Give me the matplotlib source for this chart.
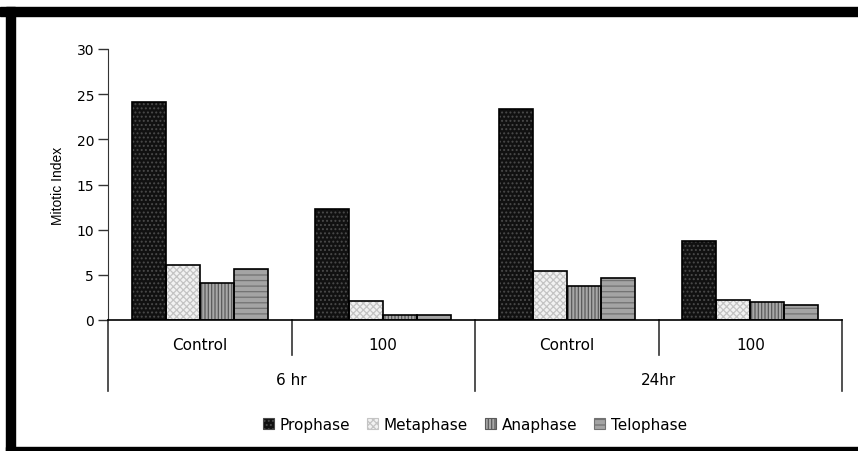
import matplotlib.pyplot as plt
from matplotlib.patches import Patch, Rectangle
import numpy as np

plt.rcParams['font.family'] = ['DejaVu Sans']
plt.rcParams['hatch.linewidth'] = 0.9

# data
phases = ['Prophase', 'Metaphase', 'Anaphase', 'Telophase']
doses = ['Control', '100', 'Control', '100']
times = ['6 hr', '24hr']
prophase = [24.1, 12.3, 23.4, 8.7]
metaphase = [6.1, 2.1, 5.4, 2.2]
anaphase = [4.1, 0.5, 3.8, 2.0]
telophase = [5.6, 0.5, 4.7, 1.7]
values = [prophase, metaphase, anaphase, telophase]

styles = [
    dict(face='#111111', hatch='....', hcol='#4a4a4a'),
    dict(face='#f2f2f2', hatch='xxxxx', hcol='#c4c4c4'),
    dict(face='#a8a8a8', hatch='|||||', hcol='#5a5a5a'),
    dict(face='#a4a4a4', hatch='---', hcol='#727272'),
]

fig = plt.figure(figsize=(8.58, 4.52), dpi=100)
ax = fig.add_axes([108 / 858, 1 - 321 / 452, (842 - 108) / 858, 271 / 452])

x = np.arange(len(doses))
w = 0.185
for i, (vals, st) in enumerate(zip(values, styles)):
    pos = x + (i - 1.5) * w
    ax.bar(pos, vals, w, color=st['face'], hatch=st['hatch'],
           edgecolor=st['hcol'], linewidth=0, zorder=2)
    ax.bar(pos, vals, w, fill=False, edgecolor='black', linewidth=1.2, zorder=3)

ax.set_xlim(-0.5, 3.5)
ax.set_ylim(0, 30)
ax.set_yticks(range(0, 31, 5))
ax.tick_params(axis='y', direction='out', length=7, width=1, color='#333333',
               labelsize=10, pad=3)
ax.set_xticks([])
for s in ['top', 'right']:
    ax.spines[s].set_visible(False)
ax.spines['left'].set_color('#333333')
ax.spines['bottom'].set_color('black')
ax.spines['bottom'].set_linewidth(1.2)
ax.set_ylabel('Mitotic Index', fontsize=10, family='Liberation Sans', labelpad=8)

# category separators and labels under the axis
tr = ax.get_xaxis_transform()
for xs in [-0.5, 1.5, 3.5]:
    ax.plot([xs, xs], [0, -0.262], transform=tr, color='#333333', lw=1.2,
            clip_on=False)
for xs in [0.5, 2.5]:
    ax.plot([xs, xs], [0, -0.129], transform=tr, color='#333333', lw=1.2,
            clip_on=False)
for xi, d in zip(x, doses):
    ax.text(xi, -0.092, d, transform=tr, ha='center', va='center', fontsize=11)
for xi, t in zip([0.5, 2.5], times):
    ax.text(xi, -0.218, t, transform=tr, ha='center', va='center', fontsize=11)

handles = [Patch(facecolor=st['face'], hatch=st['hatch'], edgecolor=st['hcol'])
           for st in styles]
leg = ax.legend(handles, phases, loc='center', bbox_to_anchor=(0.5, -0.384),
                ncol=4, frameon=False, fontsize=11, handlelength=0.7,
                handleheight=0.7, handletextpad=0.4, columnspacing=1.1)
for h in leg.legend_handles:
    h.set_linewidth(0.8)

# thick frame around the picture (right edge is cut off)
W, H = 858, 452
fig.patches.append(Rectangle((0, 1 - 17 / H), 1, 9 / H, transform=fig.transFigure,
                             color='black'))
fig.patches.append(Rectangle((6 / W, 0), 9 / W, 1 - 8 / H, transform=fig.transFigure,
                             color='black'))
fig.patches.append(Rectangle((6 / W, 0), 1, 4 / H, transform=fig.transFigure,
                             color='black'))

fig.savefig('out.png', dpi=100)
